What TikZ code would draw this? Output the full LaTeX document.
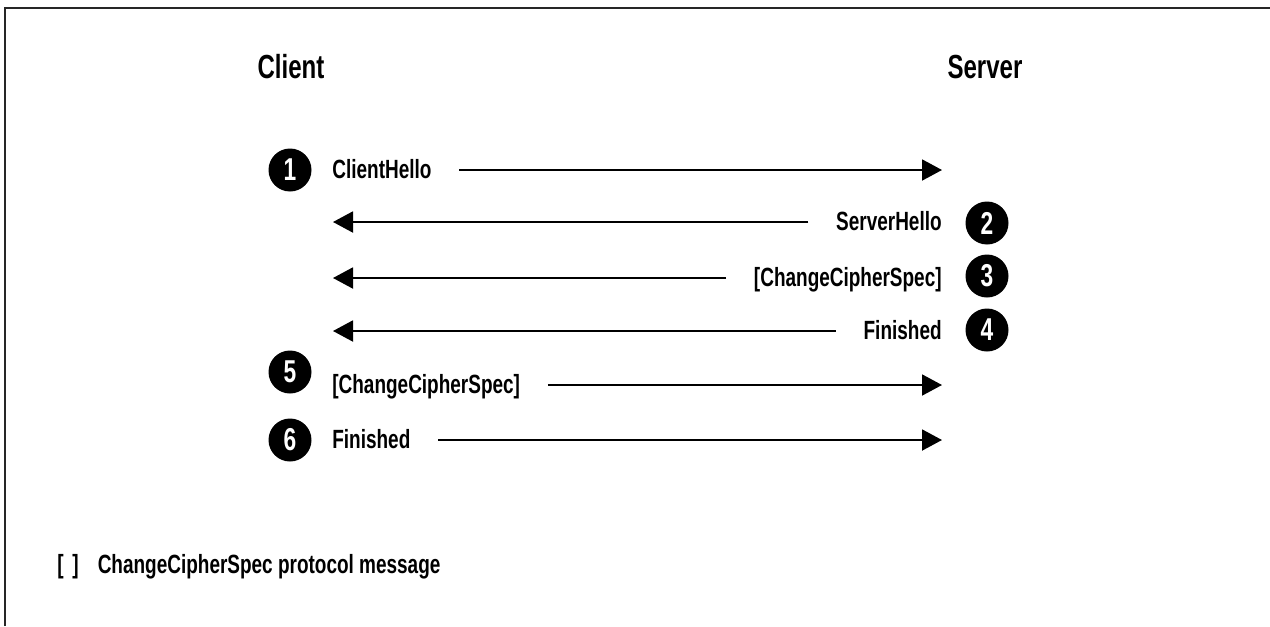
\documentclass[tikz,border=0pt]{standalone}
\usepackage{fontspec}
\setmainfont{Liberation Sans}[FakeStretch=0.72]
\usetikzlibrary{arrows.meta}

\begin{document}
\begin{tikzpicture}[
  x=0.02cm, y=-0.02cm,
  party/.style={font=\fontsize{19}{22}\selectfont\bfseries, inner sep=0pt},
  msglabel/.style={font=\fontsize{15}{18}\selectfont\bfseries, inner sep=0pt,
    text height=0.32cm, text depth=0pt},
  badge/.style={circle, fill=black, minimum size=0.86cm, inner sep=0pt,
    text=white, font=\fontsize{18}{20}\selectfont\bfseries},
  msg/.style={-{Triangle[length=0.4cm, width=0.42cm]}, line width=1.1pt,
    shorten <=0.55cm},
]
\useasboundingbox (0,0) rectangle (1270,626);
\draw[line width=1.7pt, black!85] (5,626) -- (5,8) -- (1270,8);

\node[party] (client) at (291,67) {Client};
\node[party] (server) at (985,67) {Server};

\node[badge] (n1) at (290,170) {1};
\node[msglabel, anchor=west] (m1) at (332,170) {ClientHello};
\coordinate (s1) at (942,170);
\draw[msg] (m1) -- (s1);

\node[badge] (n2) at (987,223) {2};
\node[msglabel, anchor=east] (m2) at (942,222) {ServerHello};
\coordinate (c2) at (333,222);
\draw[msg] (m2) -- (c2);

\node[badge] (n3) at (987,276) {3};
\node[msglabel, anchor=east] (m3) at (942,278) {[ChangeCipherSpec]};
\coordinate (c3) at (333,278);
\draw[msg] (m3) -- (c3);

\node[badge] (n4) at (987,330) {4};
\node[msglabel, anchor=east] (m4) at (942,331) {Finished};
\coordinate (c4) at (333,331);
\draw[msg] (m4) -- (c4);

\node[badge] (n5) at (290,372) {5};
\node[msglabel, anchor=west] (m5) at (332,385) {[ChangeCipherSpec]};
\coordinate (s5) at (942,385);
\draw[msg] (m5) -- (s5);

\node[badge] (n6) at (290,440) {6};
\node[msglabel, anchor=west] (m6) at (332,440) {Finished};
\coordinate (s6) at (942,440);
\draw[msg] (m6) -- (s6);

\node[msglabel, anchor=west] (legend) at (57,565)
  {[\,\,]\hspace{0.38cm}ChangeCipherSpec protocol message};
\end{tikzpicture}
\end{document}
